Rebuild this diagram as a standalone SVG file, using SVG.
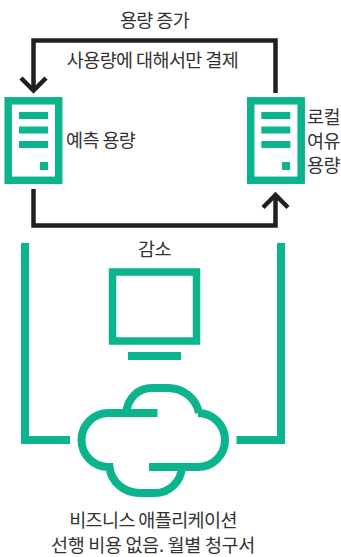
<svg xmlns="http://www.w3.org/2000/svg" width="341" height="557" viewBox="0 0 341 557">
<style>
.t{font-family:"Noto Sans CJK KR","Noto Sans",sans-serif;font-size:18.500px;fill:#333;letter-spacing:-.6px}
.w{letter-spacing:-.3px}
.k{fill:none;stroke:#231f20;stroke-width:4.500}
.g{fill:#0cb48d}
.o{fill:none;stroke:#0cb48d}
.m{text-anchor:middle}
</style>
<g id="connectors">
<path class="k" d="M33.500 90V40.500H275.500V93"/>
<path class="k" d="M21 78L33.500 90.500L46 78"/>
<path class="k" d="M33.500 189V225.500H275.500V195"/>
<path class="k" d="M263 207.500L275.500 195L288 207.500"/>
<path class="o" stroke-width="8" d="M25 243V440H70"/>
<path class="o" stroke-width="8" d="M281 243V440H236.500"/>
</g>
<g id="server-left">
<rect class="o" stroke-width="7.500" x="8.200" y="100.800" width="50.500" height="79.500"/>
<rect class="g" x="19" y="112" width="29" height="7"/>
<rect class="g" x="19" y="126.500" width="29" height="7"/>
<rect class="g" x="19" y="141" width="29" height="7"/>
<rect class="g" x="40" y="162" width="8" height="8"/>
</g>
<g id="server-right">
<rect class="o" stroke-width="7.500" x="250.700" y="100.800" width="50.500" height="79.500"/>
<rect class="g" x="261.300" y="112" width="29" height="7"/>
<rect class="g" x="261.300" y="126.500" width="29" height="7"/>
<rect class="g" x="261.300" y="141" width="29" height="7"/>
<rect class="g" x="282" y="162" width="8" height="8"/>
</g>
<g id="monitor">
<rect class="o" stroke-width="7.500" x="112.500" y="272" width="84" height="69"/>
<rect class="g" x="128" y="352" width="53" height="8"/>
</g>
<g id="cloud">
<path class="o" stroke-width="8" d="M157.500 413H108.500A27 27 0 0 0 108.500 467H109.500C111 482 124 493 140 493H155C169 493 181 482 182 467M149 467H198A27 27 0 0 0 198 413H199C196 398 183 388 168 388H152C138 388 128 398 126 413"/>
</g>
<g id="labels">
<text class="t m" x="154.500" y="27">용량 증가</text>
<text class="t m" x="152.500" y="67">사용량에 대해서만 결제</text>
<text class="t" x="66" y="147">예측 용량</text>
<text class="t" x="307" y="124">로컬</text>
<text class="t" x="307" y="148">여유</text>
<text class="t" x="307" y="172">용량</text>
<text class="t m" x="154.500" y="256">감소</text>
<text class="t m" x="153" y="527">비즈니스 애플리케이션</text>
<text class="t m w" x="153" y="552">선행 비용 없음. 월별 청구서</text>
</g>
</svg>
